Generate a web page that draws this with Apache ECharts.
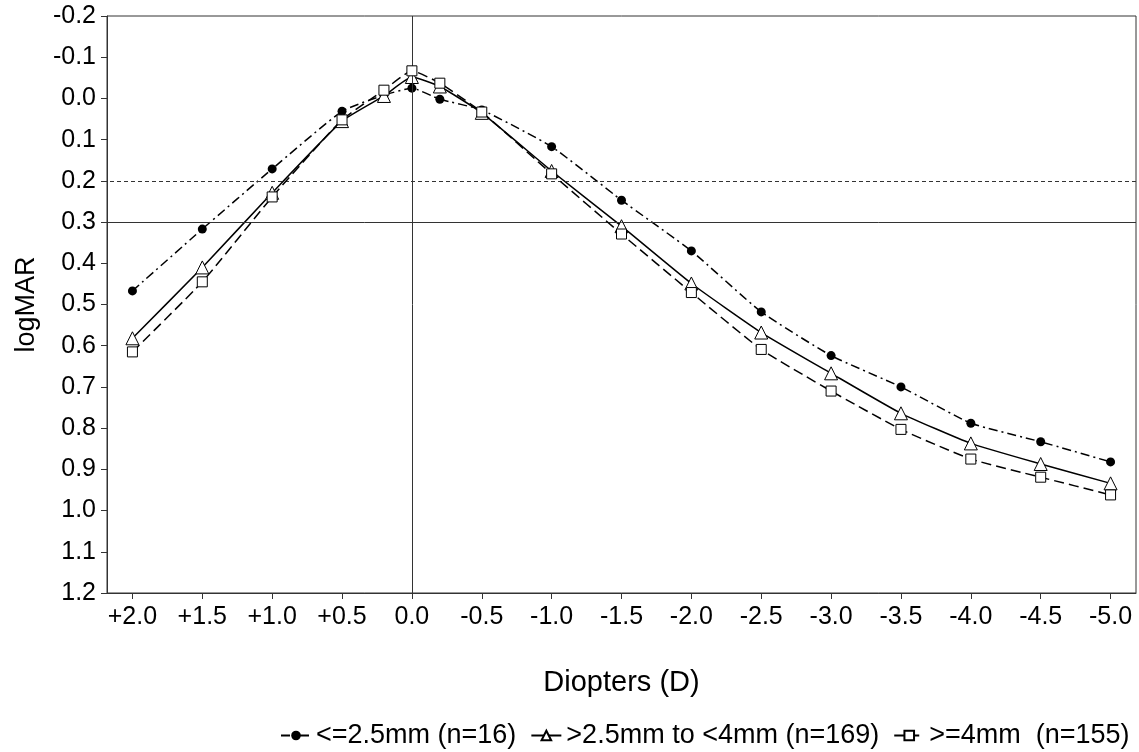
<!DOCTYPE html>
<html>
<head>
<meta charset="utf-8">
<script src="https://cdn.jsdelivr.net/npm/echarts@6/dist/echarts.min.js"></script>
<style>html,body{margin:0;padding:0;background:#fff;}#c{width:1139px;height:752px;}</style>
</head>
<body>
<div id="c"></div>
<script>
const diopters = [2.0, 1.5, 1.0, 0.5, 0.2, 0.0, -0.2, -0.5, -1.0, -1.5, -2.0, -2.5, -3.0, -3.5, -4.0, -4.5, -5.0];
const xTicks = [2.0, 1.5, 1.0, 0.5, 0.0, -0.5, -1.0, -1.5, -2.0, -2.5, -3.0, -3.5, -4.0, -4.5, -5.0];
const small = [0.467, 0.317, 0.171, 0.031, -0.008, -0.025, 0.002, 0.028, 0.117, 0.247, 0.370, 0.518, 0.624, 0.700, 0.788, 0.833, 0.882];
const medium = [0.582, 0.410, 0.229, 0.055, -0.006, -0.052, -0.029, 0.035, 0.176, 0.310, 0.449, 0.568, 0.667, 0.764, 0.837, 0.887, 0.934];
const large = [0.615, 0.445, 0.239, 0.052, -0.020, -0.067, -0.037, 0.033, 0.183, 0.329, 0.471, 0.609, 0.710, 0.803, 0.875, 0.919, 0.962];
const names = ['<=2.5mm (n=16)', '>2.5mm to <4mm (n=169)', '>=4mm  (n=155)'];
const refX = [0.0];
const refYDashed = [0.2];
const refYSolid = [0.3];

const font = 'Liberation Sans, Arial, sans-serif';
const pair = arr => diopters.map((d, i) => [d, arr[i]]);
const fmtX = v => (v > 0 ? '+' : '') + Number(v).toFixed(1);

const chart = echarts.init(document.getElementById('c'), null, {renderer: 'canvas'});
chart.setOption({
  animation: false,
  backgroundColor: '#fff',
  grid: {left: 107, right: 3, top: 16, bottom: 159, show: true, borderColor: '#333', borderWidth: 1, backgroundColor: 'transparent'},
  legend: {
    bottom: 3, left: 280, width: 900, padding: 0,
    itemWidth: 30, itemHeight: 12, itemGap: 14,
    textStyle: {fontFamily: font, fontSize: 27, color: '#000'},
    data: names
  },
  xAxis: {
    type: 'value', inverse: true, min: -5.182, max: 2.182,
    name: 'Diopters (D)', nameLocation: 'middle', nameGap: 75,
    nameTextStyle: {fontFamily: font, fontSize: 29, color: '#000'},
    axisLine: {show: true, onZero: false, lineStyle: {color: '#333', width: 1}},
    axisTick: {show: true, inside: false, length: 6, customValues: xTicks, lineStyle: {color: '#333'}},
    axisLabel: {customValues: xTicks, formatter: fmtX, fontFamily: font, fontSize: 25, color: '#000', margin: 12},
    splitLine: {show: false}
  },
  yAxis: {
    type: 'value', inverse: true, min: -0.2, max: 1.2, interval: 0.1,
    name: 'logMAR', nameLocation: 'middle', nameGap: 67,
    nameTextStyle: {fontFamily: font, fontSize: 27, color: '#000'},
    axisLine: {show: true, onZero: false, lineStyle: {color: '#333', width: 1}},
    axisTick: {show: true, inside: false, length: 6, lineStyle: {color: '#333'}},
    axisLabel: {formatter: v => Number(v).toFixed(1), fontFamily: font, fontSize: 25, color: '#000', margin: 11},
    splitLine: {show: false}
  },
  series: [
    {
      name: names[0], type: 'line', data: pair(small), smooth: 0.15,
      symbol: 'circle', symbolSize: 9,
      itemStyle: {color: '#000', borderColor: '#000', borderWidth: 0},
      lineStyle: {color: '#000', width: 1.5, type: [9, 4, 2, 4]},
      z: 3,
      markLine: {
        silent: true, symbol: ['none', 'none'], label: {show: false},
        lineStyle: {color: '#333', width: 1, type: 'solid'},
        data: [
          ...refX.map(v => ({xAxis: v})),
          ...refYDashed.map(v => ({yAxis: v, lineStyle: {type: [4, 3], color: '#333', width: 1}})),
          ...refYSolid.map(v => ({yAxis: v}))
        ]
      }
    },
    {
      name: names[1], type: 'line', data: pair(medium), smooth: 0.15,
      symbol: 'triangle', symbolSize: 13,
      itemStyle: {color: '#fff', borderColor: '#000', borderWidth: 1},
      lineStyle: {color: '#000', width: 1.5, type: 'solid'},
      z: 4
    },
    {
      name: names[2], type: 'line', data: pair(large), smooth: 0.15,
      symbol: 'rect', symbolSize: 10,
      itemStyle: {color: '#fff', borderColor: '#000', borderWidth: 1},
      lineStyle: {color: '#000', width: 1.5, type: [10, 5]},
      z: 5
    }
  ]
});
</script>
</body>
</html>
